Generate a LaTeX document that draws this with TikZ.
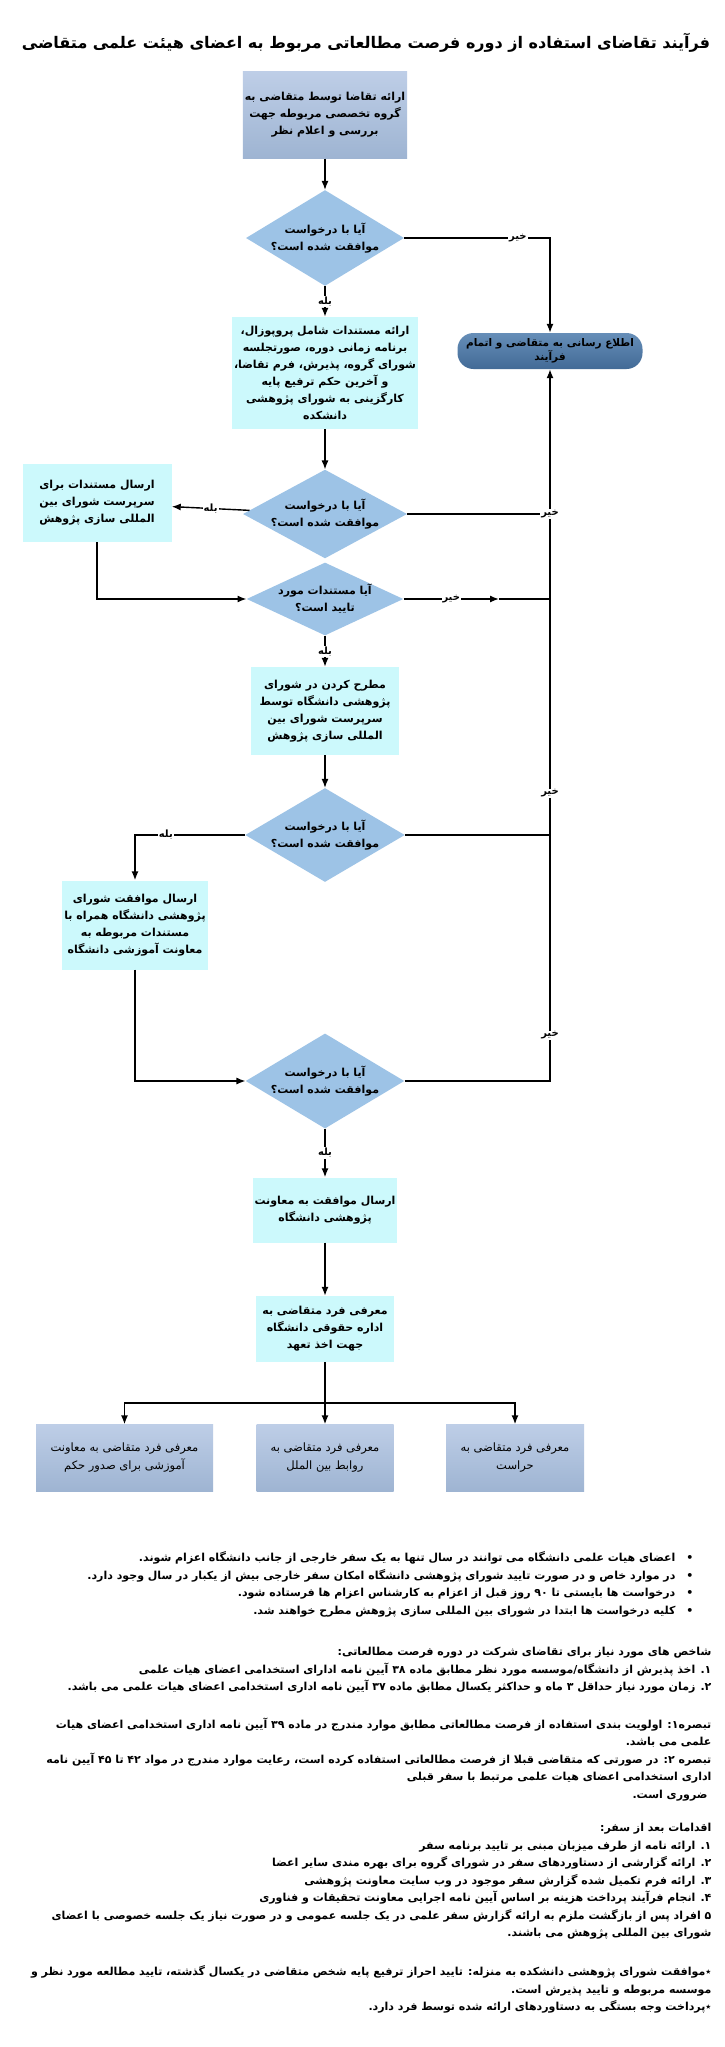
\documentclass[tikz,border=0pt]{standalone}
\usepackage{fontspec}
\usepackage{tikz}
\usetikzlibrary{shapes.geometric,arrows.meta}
\newfontfamily\arabicfont[Script=Arabic]{DejaVu Sans}
\TeXXeTstate=1
\newcommand{\fa}[1]{\beginR #1\endR}
\definecolor{boxcyan}{RGB}{204,249,252}
\definecolor{diablue}{RGB}{157,195,230}
\definecolor{steeltop}{RGB}{190,206,231}
\definecolor{steelbot}{RGB}{158,180,210}
\definecolor{exittop}{RGB}{102,142,184}
\definecolor{exitbot}{RGB}{66,106,150}

\begin{document}
\begin{tikzpicture}[x=1pt,y=-1pt,>={Latex[length=9pt,width=7pt]},
    every node/.style={align=center, font=\arabicfont\bfseries\fontsize{11}{17}\selectfont},
    flow/.style={line width=1.4pt},
    cyanbox/.style={rectangle, fill=boxcyan, inner sep=2pt},
    steelbox/.style={rectangle, top color=steeltop, bottom color=steelbot, inner sep=2pt},
    ask/.style={diamond, fill=diablue, inner sep=0pt},
    lbl/.style={fill=white, inner sep=1pt, font=\arabicfont\bfseries\fontsize{10}{12}\selectfont},
    note/.style={anchor=north east, align=right, font=\arabicfont\bfseries\fontsize{11}{17.5}\selectfont}]
  % Page
  \fill[white] (0,0) rectangle (724,2047);
  \useasboundingbox (0,0) rectangle (724,2047);
  % Title
  \node (title) at (366,43) {\fontsize{16}{20}\selectfont\fa{فرآیند تقاضای استفاده از دوره فرصت مطالعاتی مربوط به اعضای هیئت علمی متقاضی}};
  % Steps
  \node[steelbox, minimum width=152, minimum height=87] (start) at (325,115)
    {\fa{ارائه تقاضا توسط متقاضی به}\\\fa{گروه تخصصی مربوطه جهت}\\\fa{بررسی و اعلام نظر}};
  \node[ask, minimum width=149, minimum height=90, aspect=1.65] (ask1) at (325,238)
    {\fa{آیا با درخواست}\\\fa{موافقت شده است؟}};
  \node[cyanbox, minimum width=177, minimum height=112] (docs) at (325,373)
    {\fa{ارائه مستندات شامل پروپوزال،}\\\fa{برنامه زمانی دوره، صورتجلسه}\\\fa{شورای گروه، پذیرش، فرم تقاضا،}\\\fa{و آخرین حکم ترفیع پایه}\\\fa{کارگزینی به شورای پژوهشی}\\\fa{دانشکده}};
  \node[rectangle, rounded corners=16pt, top color=exittop, bottom color=exitbot,
    minimum width=185, minimum height=36, inner sep=1pt,
    font=\arabicfont\bfseries\fontsize{10.5}{14}\selectfont] (finish) at (550,351)
    {\fa{اطلاع رسانی به متقاضی و اتمام}\\\fa{فرآیند}};
  \node[ask, minimum width=147, minimum height=80, aspect=1.85] (ask2) at (325,514)
    {\fa{آیا با درخواست}\\\fa{موافقت شده است؟}};
  \node[cyanbox, minimum width=149, minimum height=78] (send) at (97,503)
    {\fa{ارسال  مستندات برای}\\\fa{سرپرست شورای بین}\\\fa{المللی سازی پژوهش}};
  \node[ask, minimum width=147, minimum height=68, aspect=2.15] (ask3) at (325,599)
    {\fa{آیا مستندات مورد}\\\fa{تایید است؟}};
  \node[cyanbox, minimum width=148, minimum height=88] (board) at (325,711)
    {\fa{مطرح کردن در شورای}\\\fa{پژوهشی دانشگاه توسط}\\\fa{سرپرست شورای بین}\\\fa{المللی سازی پژوهش}};
  \node[ask, minimum width=147, minimum height=87, aspect=1.7] (ask4) at (325,835)
    {\fa{آیا با درخواست}\\\fa{موافقت شده است؟}};
  \node[cyanbox, minimum width=146, minimum height=89] (forward) at (135,925)
    {\fa{ارسال موافقت شورای}\\\fa{پژوهشی دانشگاه همراه با}\\\fa{مستندات مربوطه به}\\\fa{معاونت آموزشی دانشگاه}};
  \node[ask, minimum width=147, minimum height=88, aspect=1.67] (ask5) at (325,1081)
    {\fa{آیا با درخواست}\\\fa{موافقت شده است؟}};
  \node[cyanbox, minimum width=138, minimum height=65] (vice) at (325,1210)
    {\fa{ارسال موافقت به معاونت}\\\fa{پژوهشی دانشگاه}};
  \node[cyanbox, minimum width=138, minimum height=66] (legal) at (325,1329)
    {\fa{معرفی فرد متقاضی به}\\\fa{اداره حقوقی دانشگاه}\\\fa{جهت اخذ تعهد}};
  % Final referrals
  \begin{scope}[every node/.append style={steelbox, minimum height=67,
      font=\arabicfont\fontsize{11.5}{18}\selectfont}]
    \node[minimum width=177] (edu) at (124.5,1458) {\fa{معرفی فرد متقاضی به معاونت}\\\fa{آموزشی برای صدور حکم}};
    \node[minimum width=137] (intl) at (325,1458) {\fa{معرفی فرد متقاضی به}\\\fa{روابط بین الملل}};
    \node[minimum width=138] (guard) at (515,1458) {\fa{معرفی فرد متقاضی به}\\\fa{حراست}};
  \end{scope}
  % Connectors
  \draw[flow,->] (start) -- (ask1);
  \draw[flow,->] (ask1) -- node[lbl]{\fa{بله}} (docs);
  \draw[flow,->] (ask1.east) -- node[lbl,pos=0.78]{\fa{خیر}} (ask1.east -| finish) -- (finish);
  \draw[flow,->] (docs) -- (ask2);
  \draw[flow,->] (ask5) -| node[lbl,pos=0.532]{\fa{خیر}} node[lbl,pos=0.702]{\fa{خیر}} (finish);
  \draw[flow,->] (ask2) -- node[lbl]{\fa{بله}} (send);
  \draw[flow] (ask2) -- (ask2 -| finish) node[lbl]{\fa{خیر}};
  \draw[flow,->] (send) |- (ask3);
  \coordinate (nohead) at (499,599);
  \draw[flow,->] (ask3) -- node[lbl]{\fa{خیر}} (nohead);
  \draw[flow] (nohead) -- (ask3 -| finish);
  \draw[flow,->] (ask3) -- node[lbl]{\fa{بله}} (board);
  \draw[flow,->] (board) -- (ask4);
  \draw[flow,->] (ask4) -| node[lbl,pos=0.36]{\fa{بله}} (forward);
  \draw[flow] (ask4) -- (ask4 -| finish);
  \draw[flow,->] (forward) |- (ask5);
  \draw[flow,->] (ask5) -- node[lbl]{\fa{بله}} (vice);
  \draw[flow,->] (vice) -- (legal);
  % Branch
  \coordinate (split) at (325,1403);
  \draw[flow] (legal) -- (split);
  \foreach \dest in {edu,intl,guard}
    \draw[flow,->] (split) -| (\dest);
  % Notes
  \node[note] (rules) at (697,1548)
    {\fa{•\quad اعضای هیات علمی دانشگاه می توانند در سال تنها به یک سفر خارجی از جانب دانشگاه اعزام شوند.}\\
     \fa{•\quad در موارد خاص و در صورت تایید شورای پژوهشی دانشگاه امکان سفر خارجی بیش از یکبار در سال وجود دارد.}\\
     \fa{•\quad درخواست ها بایستی تا ۹۰ روز قبل از اعزام به کارشناس اعزام ها فرستاده شود.}\\
     \fa{•\quad کلیه درخواست ها ابتدا در شورای بین المللی سازی پژوهش مطرح خواهند شد.}};
  \node[note] (criteria) at (715,1644)
    {\fa{شاخص های مورد نیاز برای تقاضای شرکت در دوره فرصت مطالعاتی:}\\
     \fa{۱. اخذ پذیرش از دانشگاه/موسسه مورد نظر مطابق ماده ۳۸ آیین نامه ادارای استخدامی اعضای هیات علمی}\\
     \fa{۲. زمان مورد نیاز حداقل ۳ ماه و حداکثر یکسال مطابق ماده ۳۷ آیین نامه اداری استخدامی اعضای هیات علمی می باشد.}};
  \node[note] (remarks) at (715,1714)
    {\fa{تبصره۱: اولویت بندی استفاده از فرصت مطالعاتی مطابق موارد مندرج در ماده ۳۹ آیین نامه اداری استخدامی اعضای هیات}\\
     \fa{علمی می باشد.}\\
     \fa{تبصره ۲: در صورتی که متقاضی قبلا از فرصت مطالعاتی استفاده کرده است، رعایت موارد مندرج در مواد ۴۲ تا ۴۵ آیین نامه}\\
     \fa{اداری استخدامی اعضای هیات علمی مرتبط با سفر قبلی}\\
     \fa{ضروری است.}\hspace*{4pt}};
  \node[note] (after) at (715,1820)
    {\fa{اقدامات بعد از سفر:}\\
     \fa{۱. ارائه نامه از طرف میزبان مبنی بر تایید برنامه سفر}\\
     \fa{۲. ارائه گزارشی از دستاوردهای سفر در شورای گروه برای بهره مندی سایر اعضا}\\
     \fa{۳. ارائه فرم تکمیل شده گزارش سفر موجود در وب سایت معاونت پژوهشی}\\
     \fa{۴. انجام فرآیند پرداخت هزینه بر اساس آیین نامه اجرایی معاونت تحقیقات و فناوری}\\
     \fa{۵ افراد پس از بازگشت ملزم به ارائه گزارش سفر علمی در یک جلسه عمومی و در صورت نیاز یک جلسه خصوصی با اعضای}\\
     \fa{شورای بین المللی پژوهش می باشند.}};
  \node[note] (stars) at (715,1962)
    {\fa{٭موافقت شورای پژوهشی دانشکده به منزله: تایید احراز ترفیع پایه شخص متقاضی در یکسال گذشته، تایید مطالعه مورد نظر و}\\
     \fa{موسسه مربوطه و تایید پذیرش است.}\\
     \fa{٭پرداخت وجه بستگی به دستاوردهای ارائه شده توسط فرد دارد.}};
\end{tikzpicture}
\end{document}
